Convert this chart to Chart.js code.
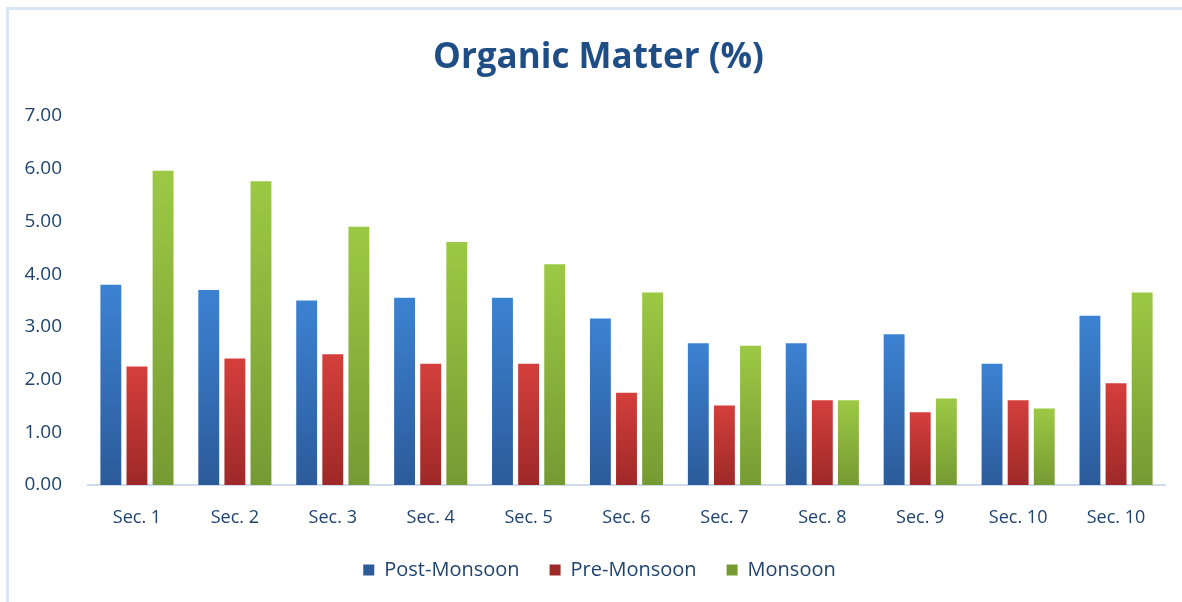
<!doctype html>
<html lang="en">
  <head>
    <meta charset="utf-8">
    <title>Organic Matter (%)</title>
    <script src="https://cdn.jsdelivr.net/npm/chart.js"></script>
    <style>
      html, body { margin: 0; padding: 0; background: #fff; }
      .om-frame {
        position: absolute;
        left: 6px;
        top: 7px;
        right: -10px;
        bottom: -10px;
        border-top: 3px solid #dbe6f5;
        border-left: 3px solid #dbe6f5;
      }
      .om-chart {
        position: absolute;
        left: 0;
        top: 0;
        width: 1182px;
        height: 602px;
      }
    </style>
  </head>
  <body>
    <div class="om-frame"></div>
    <div class="om-chart">
      <canvas id="omChart"></canvas>
    </div>
    <script>
      // values
      const sections = ['Sec. 1', 'Sec. 2', 'Sec. 3', 'Sec. 4', 'Sec. 5', 'Sec. 6',
                        'Sec. 7', 'Sec. 8', 'Sec. 9', 'Sec. 10', 'Sec. 10'];
      const postMonsoon = [3.80, 3.70, 3.50, 3.55, 3.55, 3.16, 2.69, 2.69, 2.86, 2.30, 3.21];
      const preMonsoon  = [2.25, 2.40, 2.48, 2.30, 2.30, 1.75, 1.51, 1.61, 1.38, 1.61, 1.93];
      const monsoon     = [5.96, 5.76, 4.90, 4.61, 4.19, 3.65, 2.64, 1.61, 1.64, 1.45, 3.65];

      const textBlue = '#1f426f';
      const font = '"Open Sans", Lato, sans-serif';

      // vertical gradient for each bar, lighter at the top
      function barFill(top, bottom) {
        return function (ctx) {
          const chart = ctx.chart;
          const y = chart.scales && chart.scales.y;
          if (!y || ctx.raw === undefined || !isFinite(y.getPixelForValue(0))) return top;
          const y0 = y.getPixelForValue(ctx.raw);
          const y1 = y.getPixelForValue(0);
          const g = chart.ctx.createLinearGradient(0, y0, 0, y1);
          g.addColorStop(0, top);
          g.addColorStop(1, bottom);
          return g;
        };
      }

      // title and legend sit a little right of the plot centre in the original
      const nudgeBoxes = {
        id: 'nudgeBoxes',
        afterLayout(chart) {
          if (chart.titleBlock) chart.titleBlock.left += 32;
          if (chart.legend) chart.legend.left += 34;
        }
      };

      new Chart(document.getElementById('omChart'), {
        type: 'bar',
        data: {
          labels: sections,
          datasets: [
            { label: 'Post-Monsoon', data: postMonsoon, backgroundColor: barFill('#3c82d2', '#2c5b9a') },
            { label: 'Pre-Monsoon', data: preMonsoon, backgroundColor: barFill('#d43f3c', '#9e2928') },
            { label: 'Monsoon', data: monsoon, backgroundColor: barFill('#9cc944', '#769a33') }
          ]
        },
        plugins: [nudgeBoxes],
        options: {
          responsive: true,
          maintainAspectRatio: false,
          animation: false,
          layout: { padding: { left: 0, right: 17, top: 23, bottom: 12 } },
          datasets: { bar: { categoryPercentage: 0.8, barPercentage: 0.8 } },
          plugins: {
            title: {
              display: true,
              text: 'Organic Matter (%)',
              color: '#1f4e87',
              font: { family: font, size: 35, weight: 'bold' },
              padding: { top: 14, bottom: 37 }
            },
            legend: {
              position: 'bottom',
              labels: {
                color: textBlue,
                boxWidth: 11,
                boxHeight: 11,
                padding: 30,
                font: { family: font, size: 20 }
              }
            },
            tooltip: { enabled: false }
          },
          scales: {
            x: {
              afterFit: function (scale) { scale.height = 45; },
              grid: { display: false, drawTicks: false },
              border: { color: '#cfdcee', width: 2 },
              ticks: {
                color: textBlue,
                padding: 22,
                font: { family: font, size: 18 }
              }
            },
            y: {
              min: 0,
              max: 7,
              afterFit: function (scale) { scale.width = 88; },
              grid: { display: false, drawTicks: false },
              border: { display: false },
              ticks: {
                stepSize: 1,
                color: textBlue,
                padding: 26,
                font: { family: font, size: 19 },
                callback: function (v) { return Number(v).toFixed(2); }
              }
            }
          }
        }
      });
    </script>
  </body>
</html>
